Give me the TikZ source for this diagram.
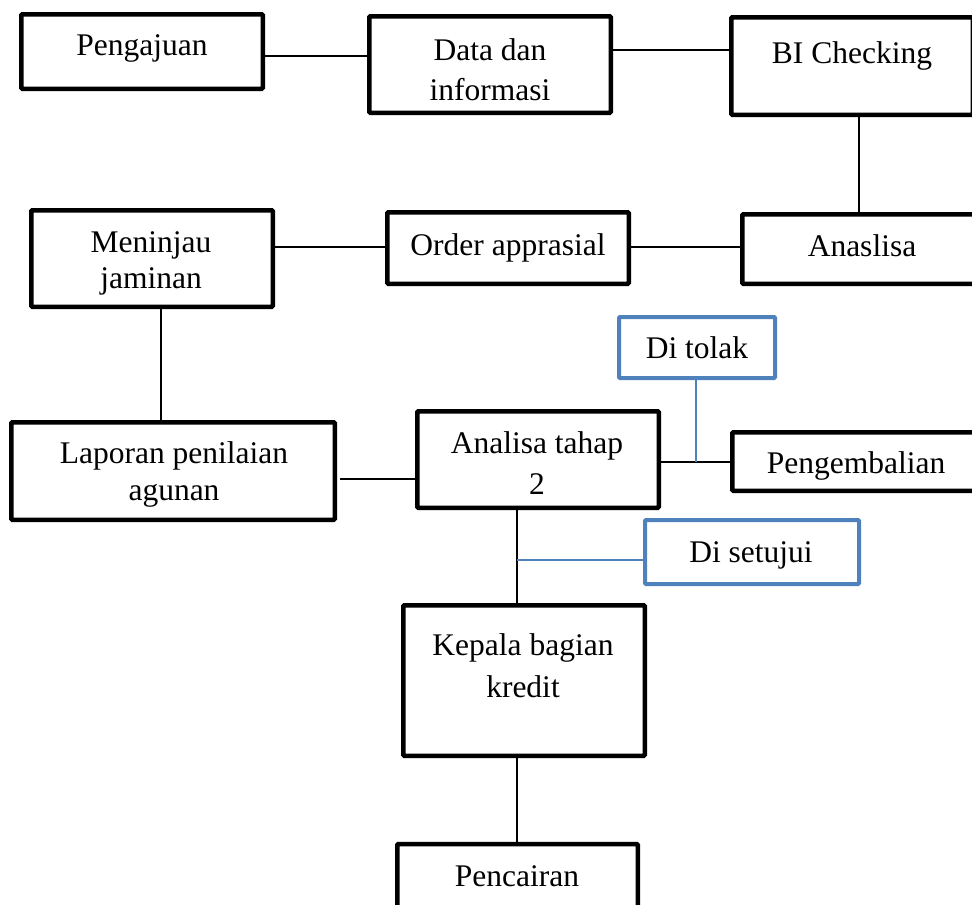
\documentclass[tikz,border=0pt]{standalone}
\usepackage{fontspec}
\setmainfont{Liberation Serif}
\definecolor{wblue}{RGB}{79,129,189}
\begin{document}
\begin{tikzpicture}[x=1pt,y=-1pt,
  bbox/.style={draw=black,line width=4.5pt,rounded corners=1pt,rectangle,inner sep=0pt,fill=white},
  bluebox/.style={draw=wblue,line width=4pt,rounded corners=1pt,rectangle,inner sep=0pt,fill=white},
  txt/.style={font=\fontsize{31.5}{36}\selectfont,anchor=base,inner sep=0pt},
  conn/.style={draw=black,line width=1.5pt},
  bconn/.style={draw=wblue,line width=1.3pt}]
\useasboundingbox (0,0) rectangle (972,905);
% boxes (size = outer size minus line width)
\node[bbox,minimum width=241.5pt,minimum height=74.5pt] (peng) at (142,51.5) {};
\node[bbox,minimum width=241.5pt,minimum height=96.5pt] (data) at (490,64.5) {};
\node[bbox,minimum width=241.5pt,minimum height=97.5pt] (bi) at (852,66) {};
\node[bbox,minimum width=241.5pt,minimum height=69.5pt] (anas) at (863,249) {};
\node[bbox,minimum width=241.5pt,minimum height=71.5pt] (order) at (508,248) {};
\node[bbox,minimum width=241.5pt,minimum height=96.5pt] (men) at (152,258.5) {};
\node[bbox,minimum width=323.5pt,minimum height=97.5pt] (lap) at (173,471) {};
\node[bbox,minimum width=241.5pt,minimum height=96.5pt] (ana2) at (538,459.5) {};
\node[bbox,minimum width=247.5pt,minimum height=58.5pt] (pengem) at (856,461.5) {};
\node[bluebox,minimum width=156pt,minimum height=61pt] (tolak) at (697,347.5) {};
\node[bluebox,minimum width=214pt,minimum height=64pt] (setuju) at (752,552) {};
\node[bbox,minimum width=241.5pt,minimum height=150.5pt] (kepala) at (524,680.5) {};
\node[bbox,minimum width=240.5pt,minimum height=80pt] (cair) at (517.5,884) {};
% texts
\node[txt] (tpeng) at (142,55) {Pengajuan};
\node[txt] (tdata1) at (490,60) {Data dan};
\node[txt] (tdata2) at (490,100) {informasi};
\node[txt] (tbi) at (852,63) {BI Checking};
\node[txt] (tanas) at (862,256) {Anaslisa};
\node[txt] (torder) at (508,255) {Order apprasial};
\node[txt] (tmen1) at (151,252) {Meninjau};
\node[txt] (tmen2) at (151,288) {jaminan};
\node[txt] (tlap1) at (174,463) {Laporan penilaian};
\node[txt] (tlap2) at (174,500) {agunan};
\node[txt] (tana1) at (537,453) {Analisa tahap};
\node[txt] (tana2) at (537,494) {2};
\node[txt] (tpengem) at (856,473) {Pengembalian};
\node[txt] (ttolak) at (697,358) {Di tolak};
\node[txt] (tsetuju) at (751,562) {Di setujui};
\node[txt] (tkep1) at (523,655) {Kepala bagian};
\node[txt] (tkep2) at (523,697) {kredit};
\node[txt] (tcair) at (517,886) {Pencairan};
% connectors
\coordinate (j1) at (696,462);
\coordinate (j2) at (517,560);
\coordinate (lapout) at (340,479);
\draw[conn] (peng.east |- 0,56) -- (data.west |- 0,56);
\draw[conn] (data.east |- 0,50) -- (bi.west |- 0,50);
\draw[conn] (bi.south -| 859,0) -- (anas.north -| 859,0);
\draw[conn] (anas.west |- 0,247) -- (order.east |- 0,247);
\draw[conn] (order.west |- 0,247) -- (men.east |- 0,247);
\draw[conn] (men.south -| 161,0) -- (lap.north -| 161,0);
\draw[conn] (lapout) -- (ana2.west |- lapout);
\draw[conn] (ana2.east |- j1) -- (pengem.west |- j1);
\draw[bconn] (tolak.south -| j1) -- (j1);
\draw[conn] (ana2.south -| j2) -- (kepala.north -| j2);
\draw[bconn] (j2) -- (setuju.west |- j2);
\draw[conn] (kepala.south -| 517,0) -- (cair.north -| 517,0);
\end{tikzpicture}
\end{document}
